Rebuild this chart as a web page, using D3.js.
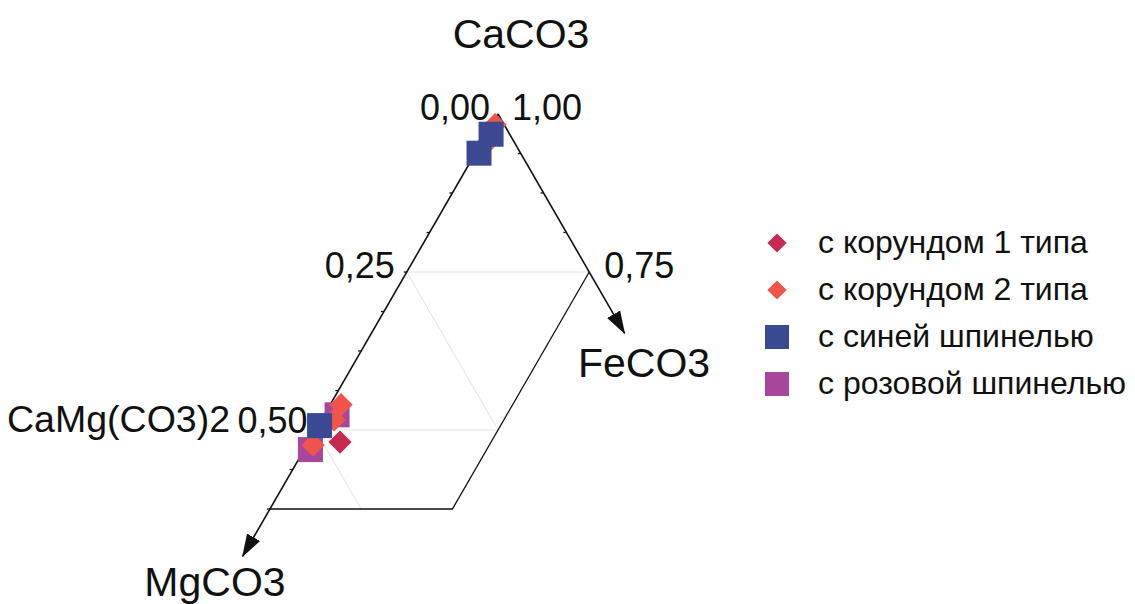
<!DOCTYPE html>
<html>
<head>
<meta charset="utf-8">
<script src="https://cdn.jsdelivr.net/npm/d3@7"></script>
<style>
  html, body { margin: 0; padding: 0; background: #fff; }
  svg { display: block; font-family: "Liberation Sans", Arial, sans-serif; }
</style>
</head>
<body>
<svg id="chart" width="1135" height="604"></svg>
<script>
// Composition triples: [CaCO3, MgCO3, FeCO3]
const corundum1 = [
  [0.481, 0.476, 0.043]
];
const corundum2 = [
  [0.983, 0.0125, 0.0045],
  [0.957, 0.034, 0.009],
  [0.540, 0.445, 0.015],
  [0.516, 0.4665, 0.0175],
  [0.476, 0.5155, 0.0085]
];
const blueSpinel = [
  [0.968, 0.0255, 0.0065],
  [0.938, 0.057, 0.005],
  [0.507, 0.491, 0.002]
];
const pinkSpinel = [
  [0.524, 0.4585, 0.0175],
  [0.469, 0.5225, 0.0085]
];

const seriesNames = ["с корундом 1 типа", "с корундом 2 типа", "с синей шпинелью", "с розовой шпинелью"];
const seriesColors = ["#c62a50", "#f0544a", "#3a4992", "#a7479b"];
const seriesShapes = ["diamond", "diamond", "square", "square"];

const leftTicks = [0.00, 0.25, 0.50];      // MgCO3 along the left side
const rightTicks = [1.00, 0.75];           // CaCO3 along the right side
const minorStep = 0.0625;

const minCa = 0.375;   // lower bound of the plotted field
const maxFe = 0.25;    // right bound of the plotted field

const svg = d3.select("#chart");

// Ternary projection: CaCO3 -> vertical, (FeCO3 - MgCO3) -> horizontal
const apexX = 498, apexY = 114, depth = 632;
const half = depth / Math.sqrt(3);
const yScale = d3.scaleLinear().domain([1, 0]).range([apexY, apexY + depth]);
const xScale = d3.scaleLinear().domain([-1, 1]).range([apexX - half, apexX + half]);
const proj = ([ca, mg, fe]) => [xScale(fe - mg), yScale(ca)];

const fmt = v => d3.format(".2f")(v).replace(".", ",");

// light grid lines
const grid = svg.append("g").attr("stroke", "#e3e3e3").attr("stroke-width", 1).attr("fill", "none");
const gridSegs = [
  [[0.75, 0.25, 0], [0.75, 0, 0.25]],
  [[0.50, 0.50, 0], [0.50, 0.25, 0.25]],
  [[0.75, 0.25, 0], [0.50, 0.25, 0.25]],
  [[0.50, 0.50, 0], [minCa, 0.50, 1 - minCa - 0.50]]
];
grid.selectAll("line").data(gridSegs).join("line")
  .attr("x1", d => proj(d[0])[0]).attr("y1", d => proj(d[0])[1])
  .attr("x2", d => proj(d[1])[0]).attr("y2", d => proj(d[1])[1]);

// field boundary (bottom and FeCO3 limit)
const boundary = [
  [minCa, 1 - minCa, 0],
  [minCa, 1 - minCa - maxFe, maxFe],
  [1 - maxFe, 0, maxFe]
];
svg.append("path")
  .attr("d", d3.line()(boundary.map(proj)))
  .attr("fill", "none").attr("stroke", "#111").attr("stroke-width", 1.3);

// axes with arrowheads
const defs = svg.append("defs");
defs.append("marker")
  .attr("id", "arrow").attr("markerUnits", "userSpaceOnUse")
  .attr("markerWidth", 24).attr("markerHeight", 18)
  .attr("viewBox", "0 -9 24 18").attr("refX", 22).attr("refY", 0)
  .attr("orient", "auto")
  .append("path").attr("d", "M0,-7.5L23,0L0,7.5Z").attr("fill", "#111");

const apex = [1, 0, 0];
const leftEnd = [0.30, 0.70, 0];
const rightEnd = [0.653, 0, 0.347];
[leftEnd, rightEnd].forEach(end => {
  svg.append("line")
    .attr("x1", proj(apex)[0]).attr("y1", proj(apex)[1])
    .attr("x2", proj(end)[0]).attr("y2", proj(end)[1])
    .attr("stroke", "#111").attr("stroke-width", 1.6)
    .attr("marker-end", "url(#arrow)");
});

// small ticks
const leftMinor = d3.range(minorStep, 1 - minCa + 1e-9, minorStep);
svg.append("g").selectAll("line").data(leftMinor).join("line")
  .attr("x1", d => proj([1 - d, d, 0])[0] - 3).attr("y1", d => proj([1 - d, d, 0])[1])
  .attr("x2", d => proj([1 - d, d, 0])[0]).attr("y2", d => proj([1 - d, d, 0])[1])
  .attr("stroke", "#111").attr("stroke-width", 1.3);
const rightMinor = d3.range(minorStep, maxFe - 1e-9, minorStep);
svg.append("g").selectAll("line").data(rightMinor).join("line")
  .attr("x1", d => proj([1 - d, 0, d])[0] - 3).attr("y1", d => proj([1 - d, 0, d])[1])
  .attr("x2", d => proj([1 - d, 0, d])[0]).attr("y2", d => proj([1 - d, 0, d])[1])
  .attr("stroke", "#111").attr("stroke-width", 1.3);

// tick labels
const labelSize = 36;
svg.append("g").selectAll("text").data(leftTicks).join("text")
  .attr("x", d => proj([1 - d, d, 0])[0] - (d === 0 ? 8 : d === 0.5 ? 8 : 12))
  .attr("y", d => proj([1 - d, d, 0])[1] + (d === 0.5 ? 3 : 6))
  .attr("text-anchor", "end").attr("font-size", labelSize).attr("fill", "#111")
  .text(fmt);
svg.append("g").selectAll("text").data(rightTicks).join("text")
  .attr("x", d => proj([d, 0, 1 - d])[0] + (d === 1 ? 14 : 15))
  .attr("y", d => proj([d, 0, 1 - d])[1] + 6)
  .attr("text-anchor", "start").attr("font-size", labelSize).attr("fill", "#111")
  .text(fmt);

// end-member and dolomite labels
svg.append("text").attr("x", 521).attr("y", 48).attr("text-anchor", "middle")
  .attr("font-size", 41).attr("fill", "#111").text("CaCO3");
svg.append("text").attr("x", 644).attr("y", 377).attr("text-anchor", "middle")
  .attr("font-size", 41).attr("fill", "#111").text("FeCO3");
svg.append("text").attr("x", 215).attr("y", 596).attr("text-anchor", "middle")
  .attr("font-size", 41).attr("fill", "#111").text("MgCO3");
svg.append("text").attr("x", 230).attr("y", 432).attr("text-anchor", "end")
  .attr("font-size", 37.5).attr("fill", "#111").text("CaMg(CO3)2");

// markers
const symbolFor = (shape, big) => shape === "square"
  ? d3.symbol(d3.symbolSquare, big ? 625 : 576)()
  : d3.symbol(d3.symbolSquare, big ? 270 : 185)();
const rotFor = shape => shape === "diamond" ? 45 : 0;

const allSeries = [corundum1, corundum2, blueSpinel, pinkSpinel];
const drawOrder = [3, 1, 2, 0];
const pts = svg.append("g");
drawOrder.forEach(i => {
  pts.append("g").selectAll("path").data(allSeries[i]).join("path")
    .attr("d", symbolFor(seriesShapes[i], true))
    .attr("transform", d => `translate(${proj(d)[0]},${proj(d)[1]}) rotate(${rotFor(seriesShapes[i])})`)
    .attr("fill", seriesColors[i]);
});

// legend
const legend = svg.append("g").attr("transform", "translate(777,243)");
const rows = legend.selectAll("g").data(seriesNames).join("g")
  .attr("transform", (d, i) => `translate(0,${i * 47})`);
rows.append("path")
  .attr("d", (d, i) => symbolFor(seriesShapes[i], false))
  .attr("transform", (d, i) => `rotate(${rotFor(seriesShapes[i])})`)
  .attr("fill", (d, i) => seriesColors[i]);
rows.append("text").attr("x", 41).attr("y", 10)
  .attr("font-size", 32).attr("fill", "#111").text(d => d);
</script>
</body>
</html>
